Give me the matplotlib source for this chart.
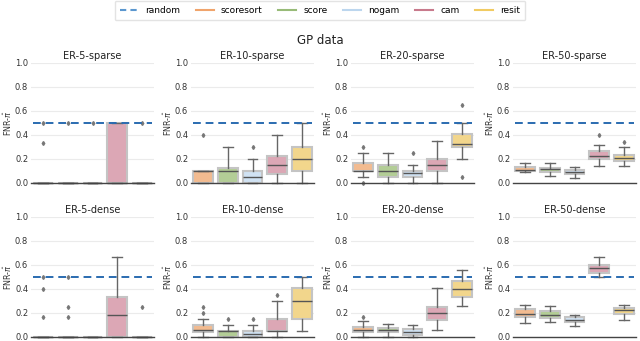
import matplotlib
matplotlib.use("Agg")
import matplotlib.pyplot as plt
from matplotlib.lines import Line2D

methods = ["scoresort", "score", "nogam", "cam", "resit"]
box_colors = ["#f2bb90", "#b3cd96", "#d0e2f3", "#dca7b5", "#f2d68c"]
legend_colors = ["#f0a46c", "#98bb78", "#bcd6ee", "#c87a8c", "#f1cb62"]
random_color = "#2a6bb0"
random_level = 0.5

panels = ["ER-5-sparse", "ER-10-sparse", "ER-20-sparse", "ER-50-sparse",
          "ER-5-dense", "ER-10-dense", "ER-20-dense", "ER-50-dense"]

# per panel, per method: (whislo, q1, median, q3, whishi)
box_stats = {
    "ER-5-sparse": [(0, 0, 0, 0, 0), (0, 0, 0, 0, 0), (0, 0, 0, 0, 0),
                    (0, 0, 0, 0.5, 0.5), (0, 0, 0, 0, 0)],
    "ER-10-sparse": [(0, 0, 0.1, 0.1, 0.1), (0, 0, 0.1, 0.125, 0.3),
                     (0, 0, 0.05, 0.1, 0.2), (0, 0.075, 0.15, 0.225, 0.4),
                     (0, 0.1, 0.2, 0.3, 0.5)],
    "ER-20-sparse": [(0.05, 0.1, 0.1, 0.165, 0.25), (0, 0.05, 0.1, 0.15, 0.25),
                     (0, 0.05, 0.08, 0.1, 0.15), (0, 0.1, 0.15, 0.2, 0.35),
                     (0.2, 0.3, 0.325, 0.41, 0.5)],
    "ER-50-sparse": [(0.09, 0.103, 0.11, 0.133, 0.17), (0.06, 0.09, 0.115, 0.125, 0.17),
                     (0.04, 0.075, 0.09, 0.11, 0.13), (0.14, 0.2, 0.225, 0.265, 0.32),
                     (0.14, 0.18, 0.21, 0.235, 0.3)],
    "ER-5-dense": [(0, 0, 0, 0, 0), (0, 0, 0, 0, 0), (0, 0, 0, 0, 0),
                   (0, 0, 0.18, 0.33, 0.667), (0, 0, 0, 0, 0)],
    "ER-10-dense": [(0, 0.045, 0.055, 0.1, 0.15), (0, 0, 0.05, 0.05, 0.1),
                    (0, 0, 0.025, 0.05, 0.1), (0, 0.05, 0.05, 0.15, 0.3),
                    (0.05, 0.15, 0.3, 0.41, 0.5)],
    "ER-20-dense": [(0, 0.04, 0.06, 0.085, 0.135), (0, 0.04, 0.055, 0.075, 0.11),
                    (0, 0.02, 0.045, 0.065, 0.1), (0.06, 0.145, 0.2, 0.25, 0.41),
                    (0.26, 0.335, 0.4, 0.465, 0.56)],
    "ER-50-dense": [(0.12, 0.17, 0.195, 0.235, 0.27), (0.125, 0.16, 0.185, 0.22, 0.255),
                    (0.09, 0.125, 0.145, 0.17, 0.185), (0.5, 0.535, 0.575, 0.6, 0.665),
                    (0.145, 0.195, 0.225, 0.24, 0.27)],
}

fliers = {
    "ER-5-sparse": [[0.33, 0.5], [0.5], [0.5], [], [0.5]],
    "ER-10-sparse": [[0.4], [], [0.3], [], []],
    "ER-20-sparse": [[0.3, 0.0], [], [0.25], [], [0.65, 0.05]],
    "ER-50-sparse": [[], [], [], [0.4], [0.34]],
    "ER-5-dense": [[0.5, 0.4, 0.167], [0.5, 0.25, 0.167], [], [], [0.25]],
    "ER-10-dense": [[0.2, 0.25], [0.15], [0.15], [0.35], []],
    "ER-20-dense": [[0.165], [], [], [], []],
    "ER-50-dense": [[], [], [], [], []],
}

plt.rcParams["font.family"] = "DejaVu Sans"
fig = plt.figure(figsize=(6.4, 3.41), dpi=100)

W, H = 640.0, 341.0
lefts = [31, 191, 351, 513]
tops = [63, 217]
aw, ah = 123, 120

for i, name in enumerate(panels):
    row, col = divmod(i, 4)
    ax = fig.add_axes([lefts[col] / W, 1 - (tops[row] + ah) / H, aw / W, ah / H])
    stats = []
    for k, (lo, q1, med, q3, hi) in enumerate(box_stats[name]):
        stats.append(dict(whislo=lo, q1=q1, med=med, q3=q3, whishi=hi,
                          fliers=fliers[name][k], label=methods[k]))
    bp = ax.bxp(stats, positions=range(5), widths=0.8, patch_artist=True,
                showcaps=True,
                boxprops=dict(edgecolor="#c4c4c4", linewidth=1.5),
                medianprops=dict(color="#555555", linewidth=1.0),
                whiskerprops=dict(color="#666666", linewidth=1.0),
                capprops=dict(color="#666666", linewidth=1.0),
                flierprops=dict(marker="d", markersize=2, markerfacecolor="#777777",
                                markeredgecolor="#777777"))
    for patch, c in zip(bp["boxes"], box_colors):
        patch.set_facecolor(c)
    for art in bp["boxes"] + bp["medians"] + bp["whiskers"] + bp["caps"] + bp["fliers"]:
        art.set_clip_on(False)
    ax.plot([-0.4, 4.4], [random_level, random_level], ls="--", color=random_color,
            lw=1.4, dashes=(4, 2.5), zorder=5)
    ax.set_xlim(-0.5, 4.5)
    ax.set_ylim(0, 1.0)
    ax.set_yticks([0, 0.2, 0.4, 0.6, 0.8, 1.0])
    ax.set_yticklabels(["0.0", "0.2", "0.4", "0.6", "0.8", "1.0"])
    ax.set_xticks([])
    ax.tick_params(axis="y", length=0, labelsize=6, colors="#333333", pad=2)
    ax.grid(axis="y", color="#ebebeb", lw=0.8)
    ax.set_axisbelow(True)
    for s in ["left", "right", "top"]:
        ax.spines[s].set_visible(False)
    ax.spines["bottom"].set_color("#444444")
    ax.spines["bottom"].set_linewidth(1.0)
    ax.set_ylabel(r"FNR-$\hat{\pi}$", fontsize=5.8, color="#333333", labelpad=1)
    ax.set_title(name, fontsize=7, color="#222222", pad=3)

fig.text(0.5, 1 - 41 / H, "GP data", ha="center", va="center", fontsize=8.5,
         color="#222222")

handles = [Line2D([], [], color="#5b97cf", ls="--", lw=1.5, dashes=(3, 2))]
handles += [Line2D([], [], color=c, lw=1.5) for c in legend_colors]
fig.legend(handles, ["random"] + methods, loc="center", ncol=6,
           bbox_to_anchor=(0.5, 1 - 10.5 / H), fontsize=6.5, frameon=True,
           edgecolor="#dddddd", handlelength=2.0, columnspacing=1.7,
           handletextpad=0.8, borderpad=0.6, fancybox=True)

fig.savefig("out.png", dpi=100)
